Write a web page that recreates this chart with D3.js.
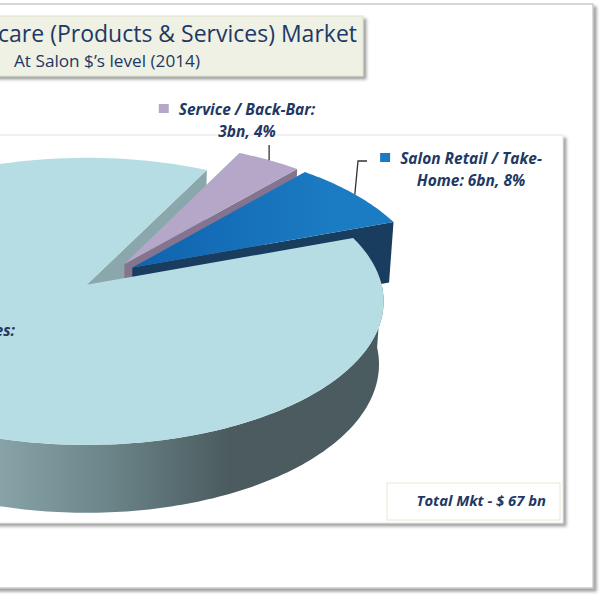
<!DOCTYPE html>
<html>
<head>
<meta charset="utf-8">
<script src="https://cdn.jsdelivr.net/npm/d3@7"></script>
<style>
  body { margin: 0; background: #fff; }
  text { font-family: "Open Sans", Lato, sans-serif; fill: #1f3864; }
</style>
</head>
<body>
<div id="chart-container"></div>
<script>
// slice data (share of total market, %), order = clockwise from the start angle
const categories = ["Mass / Drug Stores", "Service / Back-Bar", "Salon Retail / Take-Home"];
const shares = [88, 4, 8];
const valuesBn = [58, 3, 6];
const labelLines = [
  ["Mass / Drug Stores:", "58bn, 88%"],
  ["Service / Back-Bar:", "3bn, 4%"],
  ["Salon Retail / Take-", "Home: 6bn, 8%"]
];
const titleText = "Haircare (Products & Services) Market";
const subtitleText = "At Salon $\u2019s level (2014)";
const totalText = "Total Mkt - $ 67 bn";

((() => {
  const width = 600, height = 600;
  const rad = d => d * Math.PI / 180;

  // 3d pie camera
  const cx = 87, cy = 285;
  const tilt = rad(28.7), camD = 7.62, focal = 2248, thick = 0.246;
  const sT = Math.sin(tilt), cT = Math.cos(tilt);
  const pieU = 0.0735, pieV = 0.0678;   // pie centre on the table
  const explode = 0.1;                   // every slice pulled out a bit
  const startDeg = 69.9;

  function proj(u, v, h) {
    const Y = v * sT + h * cT;
    const Z = camD + v * cT - h * sT;
    return [cx + focal * u / Z, cy - focal * Y / Z];
  }

  const pie = d3.pie().sort(null)
    .startAngle(rad(startDeg)).endAngle(rad(startDeg + 360));
  const arcs = pie(shares).map((d, i) => {
    const a0 = Math.PI / 2 - d.endAngle, a1 = Math.PI / 2 - d.startAngle;
    const mid = (a0 + a1) / 2;
    return {i, a0, a1, mid,
      ox: pieU + explode * Math.cos(mid), oy: pieV + explode * Math.sin(mid)};
  });

  const fills = [
    {top: "#b7dde4", cut: "#8aa8ac", wall: "url(#wallGrad)", key: "#b7dde4"},
    {top: "#b4a7c8", cut: "#85748f", wall: "#6e6178", key: "#b4a7c8"},
    {top: "url(#blueGrad)", cut: "#183d5f", wall: "#183d5f", key: "#1a7bc3"}
  ];

  const svg = d3.select("#chart-container").append("svg")
    .attr("width", width)
    .attr("height", height)
    .attr("viewBox", [0, 0, width, height]);

  const defs = svg.append("defs");
  const sh = defs.append("filter").attr("id", "shadow")
    .attr("x", "-5%").attr("y", "-5%").attr("width", "115%").attr("height", "120%");
  sh.append("feDropShadow").attr("dx", 3).attr("dy", 3).attr("stdDeviation", 1.5)
    .attr("flood-color", "#7a7a7a").attr("flood-opacity", 0.7);

  const wg = defs.append("linearGradient").attr("id", "wallGrad")
    .attr("gradientUnits", "userSpaceOnUse").attr("x1", 0).attr("x2", 382).attr("y1", 0).attr("y2", 0);
  [[0, "#88a3a7"], [0.25, "#6e898d"], [0.6, "#4b5b5f"], [1, "#4b5c60"]]
    .forEach(([o, c]) => wg.append("stop").attr("offset", o).attr("stop-color", c));
  const bg = defs.append("linearGradient").attr("id", "blueGrad")
    .attr("gradientUnits", "userSpaceOnUse").attr("x1", 130).attr("x2", 330).attr("y1", 0).attr("y2", 0);
  [[0, "#0f63ad"], [1, "#1b7bc3"]]
    .forEach(([o, c]) => bg.append("stop").attr("offset", o).attr("stop-color", c));

  // outer chart frame
  svg.append("rect")
    .attr("x", -10).attr("y", 4).attr("width", 603).attr("height", 584)
    .attr("fill", "#fff").attr("stroke", "#cbcbcb").attr("stroke-width", 1.5)
    .attr("filter", "url(#shadow)");

  // plot area frame
  svg.append("rect")
    .attr("x", -10).attr("y", 135).attr("width", 573).attr("height", 388)
    .attr("fill", "#fff").attr("stroke", "#e4e4e4")
    .attr("filter", "url(#shadow)");

  // pie geometry
  const line = d3.line();
  const step = rad(1);
  function arcPts(a, b, h, o) {
    const pts = [];
    const n = Math.max(2, Math.ceil((b - a) / step));
    for (let k = 0; k <= n; k++) {
      const t = a + (b - a) * k / n;
      pts.push(proj(Math.cos(t) + o.ox, Math.sin(t) + o.oy, h));
    }
    return pts;
  }
  const topFace = o => [proj(o.ox, o.oy, 0), ...arcPts(o.a0, o.a1, 0, o)];
  const cutFace = (o, a) => [
    proj(o.ox, o.oy, 0), proj(Math.cos(a) + o.ox, Math.sin(a) + o.oy, 0),
    proj(Math.cos(a) + o.ox, Math.sin(a) + o.oy, -thick), proj(o.ox, o.oy, -thick)
  ];
  function frontWalls(o) {
    const out = [];
    for (let k = -2; k <= 1; k++) {
      const lo = Math.max(o.a0, Math.PI + 2 * Math.PI * k);
      const hi = Math.min(o.a1, 2 * Math.PI + 2 * Math.PI * k);
      if (hi > lo) out.push([...arcPts(lo, hi, 0, o), ...arcPts(lo, hi, -thick, o).reverse()]);
    }
    return out;
  }

  const pieG = svg.append("g");
  // side faces first (back to front), only those facing the viewer
  arcs.forEach(o => {
    if (Math.cos(o.a0) > 0)
      pieG.append("path").attr("d", line(cutFace(o, o.a0)) + "Z").attr("fill", fills[o.i].cut);
    if (Math.cos(o.a1) < 0)
      pieG.append("path").attr("d", line(cutFace(o, o.a1)) + "Z").attr("fill", fills[o.i].cut);
    frontWalls(o).forEach(p =>
      pieG.append("path").attr("d", line(p) + "Z").attr("fill", fills[o.i].wall));
  });
  // tops
  arcs.forEach(o => {
    pieG.append("path").attr("d", line(topFace(o)) + "Z").attr("fill", fills[o.i].top);
  });

  // data labels
  const labelPos = [
    {x: null, right: 15, y: 336},
    {x: 247, y: 115},
    {x: 471, y: 164}
  ];
  const lineH = 22;
  const labG = svg.append("g")
    .style("font-size", "15.5px").style("font-weight", "bold").style("font-style", "italic");
  arcs.forEach(o => {
    const p = labelPos[o.i];
    const g = labG.append("g");
    const t = g.append("text").attr("text-anchor", "middle");
    labelLines[o.i].forEach((s, j) =>
      t.append("tspan").attr("x", 0).attr("y", p.y + j * lineH).text(s));
    const w0 = t.select("tspan").node().getComputedTextLength();
    const lx = p.x != null ? p.x : p.right - w0 / 2;
    g.attr("transform", `translate(${lx},0)`);
    g.append("rect")
      .attr("x", -w0 / 2 - 20).attr("y", p.y - 11).attr("width", 10).attr("height", 9)
      .attr("fill", fills[o.i].key);
  });

  // leader lines to slice rims
  const rim = o => proj(Math.cos(o.mid) + o.ox, Math.sin(o.mid) + o.oy, 0);
  const r1 = rim(arcs[1]);
  svg.append("path")
    .attr("d", line([[r1[0], 145], r1]))
    .attr("stroke", "#333").attr("stroke-width", 1.3).attr("fill", "none");
  const r2 = rim(arcs[2]);
  svg.append("path")
    .attr("d", line([[367, 161], [358, 161], r2]))
    .attr("stroke", "#333").attr("stroke-width", 1.3).attr("fill", "none");

  // total box
  svg.append("rect")
    .attr("x", 387).attr("y", 483).attr("width", 173).attr("height", 37)
    .attr("fill", "#fff").attr("stroke", "#e6e9d6");
  svg.append("text")
    .attr("x", 546).attr("y", 506).attr("text-anchor", "end")
    .style("font-size", "14.8px").style("font-weight", "bold").style("font-style", "italic")
    .text(totalText);

  // title box
  svg.append("rect")
    .attr("x", -20).attr("y", 16).attr("width", 383).attr("height", 60)
    .attr("fill", "#eef1e3").attr("stroke", "#dfe3d0")
    .attr("filter", "url(#shadow)");
  svg.append("text")
    .attr("x", 357).attr("y", 42).attr("text-anchor", "end")
    .style("font-size", "23px")
    .text(titleText);
  svg.append("text")
    .attr("x", 14).attr("y", 67)
    .style("font-size", "17.2px")
    .text(subtitleText);
})());
</script>
</body>
</html>
